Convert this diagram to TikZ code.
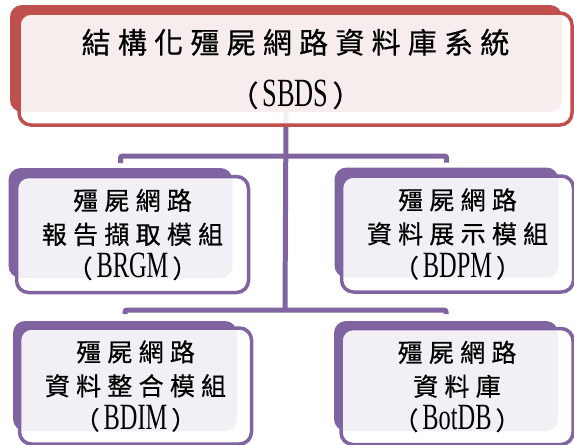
\documentclass[tikz,border=0pt]{standalone}
\usepackage{fontspec}
\setmainfont{Liberation Serif}
\newfontfamily\cjk[LetterSpace=25, FakeBold=0.6]{Noto Sans CJK TC}
\newfontfamily\cjkp[FakeBold=0.6]{Noto Sans CJK TC}
\usetikzlibrary{backgrounds}
\definecolor{boxred}{HTML}{C0504D}
\definecolor{boxpurple}{HTML}{8064A2}
\newcommand\acr[2]{{\cjkp （}\hspace{4pt}{\rmfamily\fontsize{#1}{#1}\selectfont\scalebox{0.66}[1]{#2}}\hspace{4pt}{\cjkp ）}}
\tikzset{
  backbox/.style={fill=#1, rounded corners=12pt, inner sep=0pt, outer sep=0pt},
  frontbox/.style={draw=#1, line width=3.5pt, fill=white, fill opacity=0.9, text opacity=1,
    rounded corners=12pt, inner sep=0pt, outer sep=0pt, align=center},
  small/.style={minimum width=224pt, minimum height=110pt},
  smallfront/.style={minimum width=232pt, minimum height=116pt, font=\cjk\fontsize{25}{34}\selectfont},
  link/.style={draw=boxpurple, line width=5pt, rounded corners=2pt}
}
\begin{document}
\begin{tikzpicture}[x=1pt, y=-1pt]
  \useasboundingbox (0,0) rectangle (574,445);
  % top system box
  \node[backbox=boxred, minimum width=552pt, minimum height=107pt] (sbdsb) at (286,58.5) {};
  \node[frontbox=boxred, minimum width=553pt, minimum height=112pt, font=\cjk\fontsize{29}{53}\selectfont] (sbds) at (295.5,69)
    {結構化殭屍網路資料庫系統\\\acr{40}{SBDS}};
  % modules
  \node[backbox=boxpurple, small] (brgmb) at (120.5,223) {};
  \node[frontbox=boxpurple, smallfront] (brgm) at (132.5,234.5) {殭屍網路\\報告擷取模組\\\acr{37}{BRGM}};
  \node[backbox=boxpurple, small] (bdpmb) at (446.5,222.5) {};
  \node[frontbox=boxpurple, smallfront] (bdpm) at (457.5,234) {殭屍網路\\資料展示模組\\\acr{37}{BDPM}};
  \node[backbox=boxpurple, small] (bdimb) at (125,376) {};
  \node[frontbox=boxpurple, smallfront] (bdim) at (135.5,386) {殭屍網路\\資料整合模組\\\acr{37}{BDIM}};
  \node[backbox=boxpurple, small] (botdbb) at (446,376) {};
  \node[frontbox=boxpurple, smallfront] (botdb) at (457,386.5) {殭屍網路\\資料庫\\\acr{37}{BotDB}};
  % tree links
  \begin{scope}[on background layer]
    \coordinate (hub1) at (285,156);
    \coordinate (hub2) at (285,310);
    \draw[link] (sbdsb.south) -- (hub2);
    \draw[link, shorten <=5pt] (brgmb.north) |- (hub1);
    \draw[link, shorten <=5pt] (bdpmb.north) |- (hub1);
    \draw[link, shorten <=7pt] (bdimb.north) |- (hub2);
    \draw[link, shorten <=7pt] (botdbb.north) |- (hub2);
  \end{scope}
\end{tikzpicture}
\end{document}
